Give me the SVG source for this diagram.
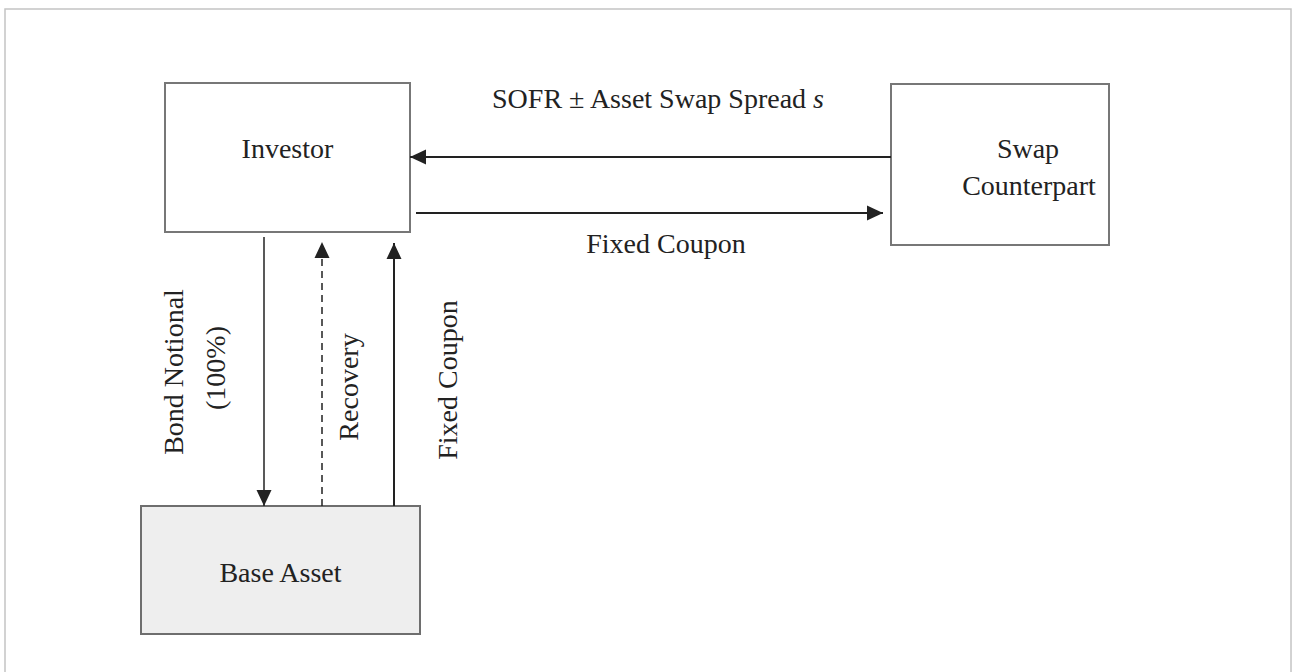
<svg xmlns="http://www.w3.org/2000/svg" width="1293" height="672" viewBox="0 0 1293 672">
<defs>
<style>
.t{font-family:"Liberation Serif","Times New Roman",serif;font-size:28px;fill:#222;}
.box{fill:#fff;stroke:#777;stroke-width:2;}
.base{fill:#eeeeee;stroke:#6e6e6e;stroke-width:2;}
.ln{stroke:#222;fill:none;stroke-width:2;}
.thin{stroke:#222;fill:none;stroke-width:1.5;}
.dash{stroke:#222;fill:none;stroke-width:1.5;stroke-dasharray:7,5;}
</style>
<marker id="ah" markerWidth="16" markerHeight="16" viewBox="0 0 16 16" refX="16" refY="8" orient="auto" markerUnits="userSpaceOnUse">
<path d="M0,0.5 L16,8 L0,15.5 Z" fill="#222"/>
</marker>
</defs>
<rect x="0" y="0" width="1293" height="672" fill="#fff"/>
<rect x="5" y="9" width="1286" height="700" fill="none" stroke="#c4c4c4" stroke-width="1.5"/>
<g id="investor">
<rect class="box" x="165" y="83" width="245" height="149"/>
<text class="t" x="287.5" y="158" text-anchor="middle">Investor</text>
</g>
<g id="swap-counterpart">
<rect class="box" x="891" y="84" width="218" height="161"/>
<text class="t" x="1028" y="158" text-anchor="middle">Swap</text>
<text class="t" x="1029" y="195" text-anchor="middle">Counterpart</text>
</g>
<g id="base-asset">
<rect class="base" x="141" y="506" width="279" height="128"/>
<text class="t" x="280.5" y="582" text-anchor="middle">Base Asset</text>
</g>
<g id="connectors">
<line class="ln" x1="891" y1="157" x2="410" y2="157" marker-end="url(#ah)"/>
<line class="ln" x1="416" y1="213" x2="883" y2="213" marker-end="url(#ah)"/>
<line class="thin" x1="264" y1="237" x2="264" y2="506" marker-end="url(#ah)"/>
<line class="dash" x1="322" y1="506" x2="322" y2="242" marker-end="url(#ah)"/>
<line class="ln" x1="394" y1="506" x2="394" y2="243" marker-end="url(#ah)"/>
</g>
<g id="labels">
<text class="t" x="658" y="108" text-anchor="middle">SOFR ± Asset Swap Spread <tspan font-style="italic">s</tspan></text>
<text class="t" x="666" y="253" text-anchor="middle">Fixed Coupon</text>
<text class="t" transform="translate(183,372) rotate(-90)" text-anchor="middle">Bond Notional</text>
<text class="t" transform="translate(225,368) rotate(-90)" text-anchor="middle">(100%)</text>
<text class="t" transform="translate(358,387) rotate(-90)" text-anchor="middle">Recovery</text>
<text class="t" transform="translate(457,380) rotate(-90)" text-anchor="middle">Fixed Coupon</text>
</g>
</svg>
